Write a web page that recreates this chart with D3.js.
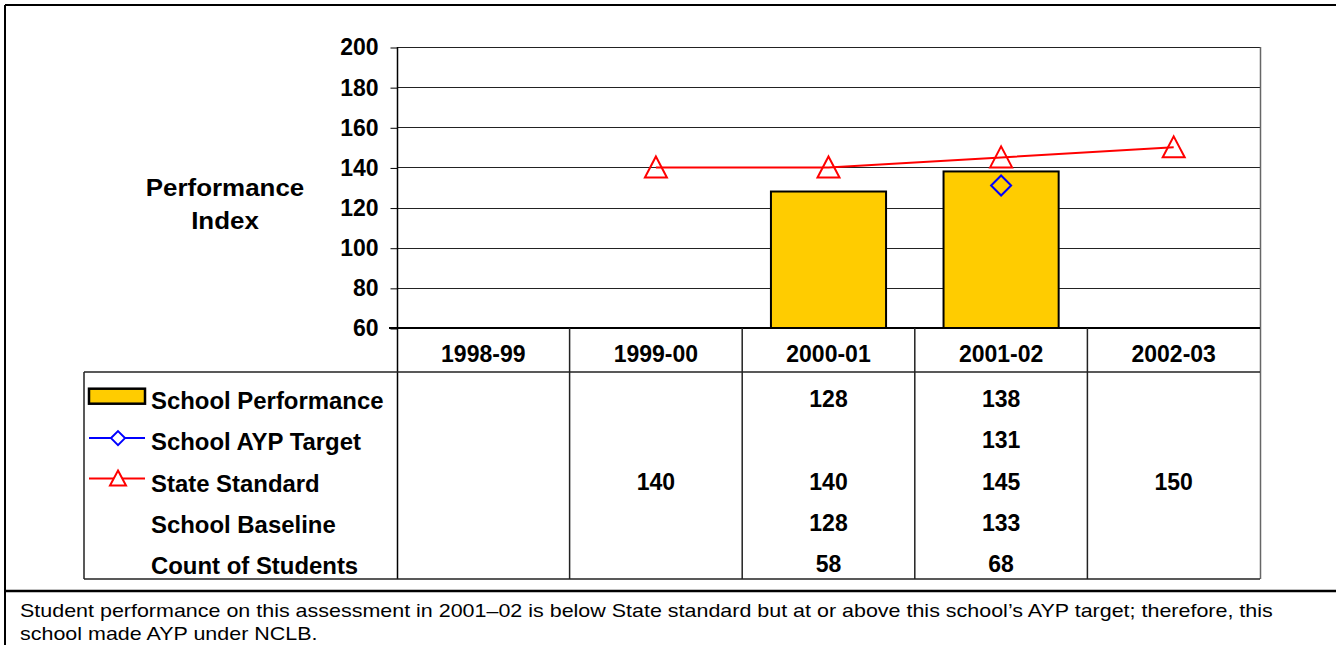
<!DOCTYPE html>
<html>
<head>
<meta charset="utf-8">
<script src="https://cdn.jsdelivr.net/npm/d3@7"></script>
<style>
  body { margin: 0; background: #fff; }
  text { font-family: "Liberation Sans", Arial, sans-serif; }
</style>
</head>
<body>
<div id="chart"></div>
<script>
// Data
var categories = ["1998-99", "1999-00", "2000-01", "2001-02", "2002-03"];
var schoolPerformance = [null, null, 128, 138, null];
var aypTarget = [null, null, null, 131, null];
var stateStandard = [null, 140, 140, 145, 150];
var schoolBaseline = [null, null, 128, 133, null];
var studentCount = [null, null, 58, 68, null];
var yTicks = [60, 80, 100, 120, 140, 160, 180, 200];
var rowLabels = ["School Performance", "School AYP Target", "State Standard", "School Baseline", "Count of Students"];
var footnote = [
    "Student performance on this assessment in 2001\u201302 is below State standard but at or above this school\u2019s AYP target; therefore, this",
    "school made AYP under NCLB."
];

var svgWidth = 1336;
var svgHeight = 645;

// plot area
var plotLeft = 397, plotRight = 1260, plotTop = 47, plotBottom = 328;
// table rows
var headerBottom = 372, tableBottom = 579, tableLeft = 84;

var svg = d3.select("#chart")
    .append("svg")
    .attr("width", svgWidth)
    .attr("height", svgHeight);

var xScale = d3.scaleBand()
    .domain(categories)
    .range([plotLeft, plotRight])
    .padding(0);

var yScale = d3.scaleLinear()
    .domain([60, 200])
    .range([plotBottom, plotTop]);

// outer frame
svg.append("line").attr("x1", 5).attr("y1", 5).attr("x2", svgWidth).attr("y2", 5)
    .attr("stroke", "#000").attr("stroke-width", 2);
svg.append("line").attr("x1", 5).attr("y1", 5).attr("x2", 5).attr("y2", svgHeight)
    .attr("stroke", "#000").attr("stroke-width", 2);
svg.append("line").attr("x1", 5).attr("y1", 591).attr("x2", svgWidth).attr("y2", 591)
    .attr("stroke", "#000").attr("stroke-width", 2.5);

// gridlines
svg.append("g")
    .selectAll("line")
    .data(yTicks)
    .enter()
    .append("line")
    .attr("x1", plotLeft)
    .attr("x2", plotRight)
    .attr("y1", d => Math.round(yScale(d)) + 0.5)
    .attr("y2", d => Math.round(yScale(d)) + 0.5)
    .attr("stroke", "#222")
    .attr("stroke-width", 1);

// left axis
var leftAxis = d3.axisLeft(yScale)
    .tickValues(yTicks)
    .tickSize(7)
    .tickPadding(12);

var yAxisG = svg.append("g")
    .attr("transform", `translate(${plotLeft + 0.5}, 0.5)`)
    .call(leftAxis);
yAxisG.select(".domain").remove();
yAxisG.selectAll("line").attr("stroke", "#000");
yAxisG.selectAll("text")
    .attr("font-family", "Liberation Sans, Arial, sans-serif")
    .attr("font-size", "23px")
    .attr("font-weight", "bold")
    .attr("fill", "#000");

// y axis title
svg.append("text")
    .attr("transform", "translate(225, 196) scale(1.08, 1)")
    .attr("text-anchor", "middle")
    .attr("font-size", "24px").attr("font-weight", "bold")
    .text("Performance");
svg.append("text")
    .attr("transform", "translate(225, 229) scale(1.08, 1)")
    .attr("text-anchor", "middle")
    .attr("font-size", "24px").attr("font-weight", "bold")
    .text("Index");

// bars
var barWidth = xScale.bandwidth() * 0.667;
svg.append("g")
    .selectAll("rect")
    .data(categories.map((c, i) => ({ cat: c, v: schoolPerformance[i] })).filter(d => d.v !== null))
    .enter()
    .append("rect")
    .attr("x", d => xScale(d.cat) + (xScale.bandwidth() - barWidth) / 2)
    .attr("y", d => yScale(d.v))
    .attr("width", barWidth)
    .attr("height", d => plotBottom - yScale(d.v))
    .attr("fill", "#FFCC00")
    .attr("stroke", "#000")
    .attr("stroke-width", 2);

// state standard line
var stdData = categories.map((c, i) => ({ cat: c, v: stateStandard[i] })).filter(d => d.v !== null);
var line = d3.line()
    .x(d => xScale(d.cat) + xScale.bandwidth() / 2)
    .y(d => yScale(d.v));

svg.append("path")
    .datum(stdData)
    .attr("d", line)
    .attr("fill", "none")
    .attr("stroke", "#FF0000")
    .attr("stroke-width", 2);

var triangle = "M0,-11L11,10L-11,10Z";
svg.append("g")
    .selectAll("path")
    .data(stdData)
    .enter()
    .append("path")
    .attr("d", triangle)
    .attr("transform", d => `translate(${xScale(d.cat) + xScale.bandwidth() / 2}, ${yScale(d.v)})`)
    .attr("fill", "none")
    .attr("stroke", "#FF0000")
    .attr("stroke-width", 2);

// AYP target markers
var diamond = "M0,-10L10,0L0,10L-10,0Z";
svg.append("g")
    .selectAll("path")
    .data(categories.map((c, i) => ({ cat: c, v: aypTarget[i] })).filter(d => d.v !== null))
    .enter()
    .append("path")
    .attr("d", diamond)
    .attr("transform", d => `translate(${xScale(d.cat) + xScale.bandwidth() / 2}, ${yScale(d.v)})`)
    .attr("fill", "none")
    .attr("stroke", "#0000FF")
    .attr("stroke-width", 2);

// plot right border
svg.append("line")
    .attr("x1", plotRight + 0.5).attr("x2", plotRight + 0.5)
    .attr("y1", plotTop).attr("y2", tableBottom)
    .attr("stroke", "#666").attr("stroke-width", 1.5);

// y axis line
svg.append("line")
    .attr("x1", plotLeft + 0.5).attr("x2", plotLeft + 0.5)
    .attr("y1", plotTop).attr("y2", tableBottom)
    .attr("stroke", "#000").attr("stroke-width", 1.5);

// category axis line
svg.append("line")
    .attr("x1", plotLeft - 8).attr("x2", plotRight)
    .attr("y1", plotBottom).attr("y2", plotBottom)
    .attr("stroke", "#000").attr("stroke-width", 2);

// table lines
var table = svg.append("g").attr("stroke", "#222").attr("stroke-width", 1.5);
table.selectAll("line.v")
    .data(categories.slice(1))
    .enter()
    .append("line")
    .attr("class", "v")
    .attr("x1", d => xScale(d)).attr("x2", d => xScale(d))
    .attr("y1", plotBottom).attr("y2", tableBottom);
table.append("line").attr("x1", tableLeft).attr("x2", plotRight)
    .attr("y1", headerBottom).attr("y2", headerBottom);
table.append("line").attr("x1", tableLeft).attr("x2", plotRight)
    .attr("y1", tableBottom).attr("y2", tableBottom);
table.append("line").attr("x1", tableLeft).attr("x2", tableLeft)
    .attr("y1", headerBottom).attr("y2", tableBottom);

// category labels
svg.append("g")
    .selectAll("text")
    .data(categories)
    .enter()
    .append("text")
    .attr("x", d => xScale(d) + xScale.bandwidth() / 2)
    .attr("y", 354)
    .attr("dy", "0.35em")
    .attr("text-anchor", "middle")
    .attr("font-size", "23px").attr("font-weight", "bold")
    .text(d => d);

// table rows (text sits a little below each row's centre, as in the original)
var rowY = d3.scaleBand()
    .domain(rowLabels)
    .range([headerBottom, tableBottom]);
var rowValues = [schoolPerformance, aypTarget, stateStandard, schoolBaseline, studentCount];
var rowCentre = label => rowY(label) + rowY.bandwidth() / 2 + 8;

rowLabels.forEach(function(label, r) {
    var cy = rowCentre(label);
    svg.append("text")
        .attr("transform", `translate(151, ${cy}) scale(1.04, 1)`)
        .attr("dy", "0.35em")
        .attr("font-size", "23px").attr("font-weight", "bold")
        .text(label);
    svg.append("g")
        .selectAll("text")
        .data(categories.map((c, i) => ({ cat: c, v: rowValues[r][i] })).filter(d => d.v !== null))
        .enter()
        .append("text")
        .attr("x", d => xScale(d.cat) + xScale.bandwidth() / 2)
        .attr("y", cy - 2)
        .attr("dy", "0.35em")
        .attr("text-anchor", "middle")
        .attr("font-size", "23px").attr("font-weight", "bold")
        .text(d => d.v);
});

// legend keys
var keyX1 = 89, keyX2 = 145, keyMid = 118;
var perfY = rowCentre(rowLabels[0]);
svg.append("rect")
    .attr("x", keyX1).attr("y", perfY - 12)
    .attr("width", keyX2 - keyX1).attr("height", 15)
    .attr("fill", "#FFCC00").attr("stroke", "#000").attr("stroke-width", 2.5);

var aypY = rowCentre(rowLabels[1]) - 4;
svg.append("line").attr("x1", keyX1).attr("x2", keyX2).attr("y1", aypY).attr("y2", aypY)
    .attr("stroke", "#0000FF").attr("stroke-width", 2);
svg.append("path").attr("d", "M0,-7L7,0L0,7L-7,0Z")
    .attr("transform", `translate(${keyMid}, ${aypY})`)
    .attr("fill", "#fff").attr("stroke", "#0000FF").attr("stroke-width", 2);

var stdY = rowCentre(rowLabels[2]) - 5;
svg.append("line").attr("x1", keyX1).attr("x2", keyX2).attr("y1", stdY).attr("y2", stdY)
    .attr("stroke", "#FF0000").attr("stroke-width", 2);
svg.append("path").attr("d", "M0,-8L8,7L-8,7Z")
    .attr("transform", `translate(${keyMid}, ${stdY})`)
    .attr("fill", "#fff").attr("stroke", "#FF0000").attr("stroke-width", 2);

// footnote
svg.append("g")
    .selectAll("text")
    .data(footnote)
    .enter()
    .append("text")
    .attr("transform", (d, i) => `translate(20, ${617 + i * 23}) scale(1.13, 1)`)
    .attr("font-size", "19px")
    .attr("fill", "#000")
    .text(d => d);
</script>
</body>
</html>
